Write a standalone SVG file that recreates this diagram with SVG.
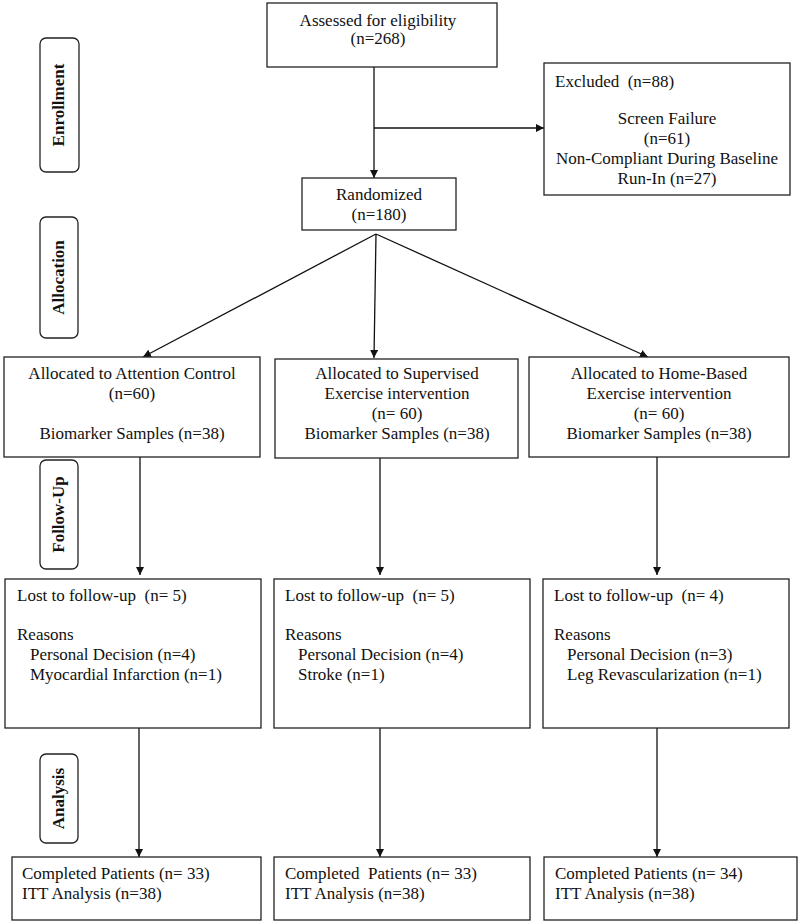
<svg xmlns="http://www.w3.org/2000/svg" width="800" height="924" viewBox="0 0 800 924">
<style>
.box{fill:#fff;stroke:#222;stroke-width:1.3}
.side{fill:#fff;stroke:#222;stroke-width:1.3}
text{font-family:"Liberation Serif","Times New Roman",serif;font-size:17px;fill:#111}
.c{text-anchor:middle}
.lbl{font-weight:bold;text-anchor:middle}
.ln{fill:none;stroke:#111;stroke-width:1.3}
</style>
<defs>
<marker id="ah" viewBox="0 0 10 10" refX="10" refY="5" markerWidth="8" markerHeight="8" markerUnits="userSpaceOnUse" orient="auto">
<path d="M0,0 L10,5 L0,10 z" fill="#111"/>
</marker>
</defs>
<rect width="800" height="924" fill="#fff"/>

<g id="side-enrollment"><rect class="side" x="40" y="38" width="39" height="134" rx="6"/><text class="lbl" transform="translate(64,105) rotate(-90)">Enrollment</text></g>
<g id="side-allocation"><rect class="side" x="40" y="217" width="38" height="121" rx="6"/><text class="lbl" transform="translate(64,277.5) rotate(-90)">Allocation</text></g>
<g id="side-followup"><rect class="side" x="40" y="460" width="38" height="109" rx="6"/><text class="lbl" transform="translate(64,514.5) rotate(-90)">Follow-Up</text></g>
<g id="side-analysis"><rect class="side" x="40" y="754" width="38" height="89" rx="6"/><text class="lbl" transform="translate(64,798.5) rotate(-90)">Analysis</text></g>

<g id="connectors">
<line class="ln" x1="374" y1="60" x2="374" y2="178" marker-end="url(#ah)"/>
<line class="ln" x1="374" y1="128" x2="544" y2="128" marker-end="url(#ah)"/>
<line class="ln" x1="376" y1="234" x2="143" y2="357" marker-end="url(#ah)"/>
<line class="ln" x1="376" y1="234" x2="374" y2="358" marker-end="url(#ah)"/>
<line class="ln" x1="376" y1="234" x2="648" y2="357" marker-end="url(#ah)"/>
<line class="ln" x1="140" y1="457" x2="140" y2="575" marker-end="url(#ah)"/>
<line class="ln" x1="380" y1="458" x2="380" y2="575" marker-end="url(#ah)"/>
<line class="ln" x1="657" y1="457" x2="657" y2="575" marker-end="url(#ah)"/>
<line class="ln" x1="139" y1="728" x2="139" y2="857" marker-end="url(#ah)"/>
<line class="ln" x1="380" y1="728" x2="380" y2="857" marker-end="url(#ah)"/>
<line class="ln" x1="657" y1="728" x2="657" y2="857" marker-end="url(#ah)"/>
</g>

<g id="assessed"><rect class="box" x="267" y="3" width="230" height="64"/>
<text class="c" x="378" y="26">Assessed for eligibility</text>
<text class="c" x="378" y="44">(n=268)</text></g>

<g id="excluded"><rect class="box" x="544" y="63" width="246" height="132"/>
<text x="555" y="87" xml:space="preserve">Excluded  (n=88)</text>
<text class="c" x="667" y="124">Screen Failure</text>
<text class="c" x="667" y="144">(n=61)</text>
<text class="c" x="667" y="164">Non-Compliant During Baseline</text>
<text class="c" x="667" y="184">Run-In (n=27)</text></g>

<g id="randomized"><rect class="box" x="302" y="178" width="154" height="52"/>
<text class="c" x="379" y="200">Randomized</text>
<text class="c" x="379" y="220">(n=180)</text></g>

<g id="alloc-control"><rect class="box" x="4" y="357" width="256" height="100"/>
<text class="c" x="132" y="379">Allocated to Attention Control</text>
<text class="c" x="132" y="399">(n=60)</text>
<text class="c" x="132" y="439">Biomarker Samples (n=38)</text></g>

<g id="alloc-supervised"><rect class="box" x="275" y="359" width="243" height="99"/>
<text class="c" x="397" y="379">Allocated to Supervised</text>
<text class="c" x="397" y="399">Exercise intervention</text>
<text class="c" x="397" y="419">(n= 60)</text>
<text class="c" x="397" y="439">Biomarker Samples (n=38)</text></g>

<g id="alloc-home"><rect class="box" x="529" y="357" width="260" height="100"/>
<text class="c" x="659" y="379">Allocated to Home-Based</text>
<text class="c" x="659" y="399">Exercise intervention</text>
<text class="c" x="659" y="419">(n= 60)</text>
<text class="c" x="659" y="439">Biomarker Samples (n=38)</text></g>

<g id="lost-control"><rect class="box" x="5" y="579" width="256" height="149"/>
<text x="17" y="601" xml:space="preserve">Lost to follow-up  (n= 5)</text>
<text x="17" y="640">Reasons</text>
<text x="30" y="660">Personal Decision (n=4)</text>
<text x="30" y="680">Myocardial Infarction (n=1)</text></g>

<g id="lost-supervised"><rect class="box" x="274" y="579" width="256" height="149"/>
<text x="285" y="601" xml:space="preserve">Lost to follow-up  (n= 5)</text>
<text x="285" y="640">Reasons</text>
<text x="298" y="660">Personal Decision (n=4)</text>
<text x="298" y="680">Stroke (n=1)</text></g>

<g id="lost-home"><rect class="box" x="543" y="579" width="246" height="149"/>
<text x="554" y="601" xml:space="preserve">Lost to follow-up  (n= 4)</text>
<text x="554" y="640">Reasons</text>
<text x="567" y="660">Personal Decision (n=3)</text>
<text x="567" y="680">Leg Revascularization (n=1)</text></g>

<g id="completed-control"><rect class="box" x="12" y="857" width="249" height="63"/>
<text x="22" y="879">Completed Patients (n= 33)</text>
<text x="22" y="899">ITT Analysis (n=38)</text></g>

<g id="completed-supervised"><rect class="box" x="274" y="857" width="256" height="63"/>
<text x="285" y="879" xml:space="preserve">Completed  Patients (n= 33)</text>
<text x="285" y="899">ITT Analysis (n=38)</text></g>

<g id="completed-home"><rect class="box" x="544" y="857" width="253" height="63"/>
<text x="555" y="879">Completed Patients (n= 34)</text>
<text x="555" y="899">ITT Analysis (n=38)</text></g>
</svg>
